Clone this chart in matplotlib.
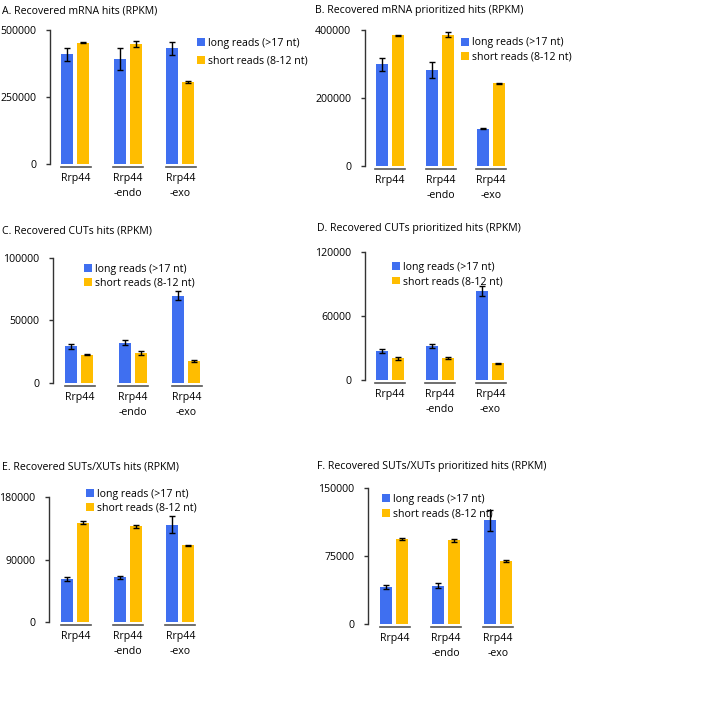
import matplotlib
matplotlib.use("Agg")
import matplotlib.pyplot as plt
from matplotlib.patches import Patch
from matplotlib.transforms import blended_transform_factory

plt.rcParams['font.family'] = ['Open Sans', 'DejaVu Sans']

categories = ["Rrp44", "Rrp44\n-endo", "Rrp44\n-exo"]
series_names = ["long reads (>17 nt)", "short reads (8-12 nt)"]

titles = [
    "A. Recovered mRNA hits (RPKM)",
    "B. Recovered mRNA prioritized hits (RPKM)",
    "C. Recovered CUTs hits (RPKM)",
    "D. Recovered CUTs prioritized hits (RPKM)",
    "E. Recovered SUTs/XUTs hits (RPKM)",
    "F. Recovered SUTs/XUTs prioritized hits (RPKM)",
]

# values per panel: long reads, short reads, and their error bars
long_vals = [
    [409000, 392000, 432000],
    [299000, 282000, 109000],
    [29300, 32200, 69600],
    [27100, 32100, 83200],
    [62200, 64200, 140300],
    [40600, 42300, 114200],
]
long_err = [
    [25000, 40000, 25000],
    [19000, 24000, 1500],
    [2200, 2200, 3600],
    [1600, 1800, 4500],
    [3000, 2500, 12000],
    [2200, 2500, 11500],
]
short_vals = [
    [452000, 448000, 307000],
    [384000, 386000, 244000],
    [22600, 23700, 17600],
    [20300, 20600, 15900],
    [143200, 137900, 110600],
    [94000, 92100, 69300],
]
short_err = [
    [1500, 12000, 3000],
    [1500, 7000, 1500],
    [500, 1500, 500],
    [1200, 1200, 500],
    [2000, 2500, 800],
    [1000, 1200, 800],
]
y_max = [500000, 400000, 100000, 120000, 180000, 150000]
y_ticks = [
    [0, 250000, 500000],
    [0, 200000, 400000],
    [0, 50000, 100000],
    [0, 60000, 120000],
    [0, 90000, 180000],
    [0, 75000, 150000],
]

# layout in pixels
W, H = 713, 726
axis_x = [50, 365, 53, 365, 49, 368]
axis_top = [30, 30, 258, 252, 497, 488]
axis_bot = [164, 166, 383, 380, 622, 624]
group_c0 = [75.3, 389.5, 79, 389.5, 75.5, 394]
group_c2 = [180, 490.5, 186, 490, 180, 497.5]
title_pos = [(2, 11), (315, 11), (2, 231), (317, 228), (2, 467), (317, 467)]
legend_pos = [(197, 38), (461, 37.5), (84, 264), (392, 262), (86, 489), (382, 494)]
legend_spacing = [0.64, 0.31, 0.27, 0.29, 0.24, 0.36]

BLUE = "#3F6FF0"
YELLOW = "#FFBD00"
FS = 7.6

fig = plt.figure(figsize=(W / 100, H / 100), dpi=100)

for i in range(6):
    ax_w = 170
    left = axis_x[i] / W
    bottom = 1 - axis_bot[i] / H
    height = (axis_bot[i] - axis_top[i]) / H
    ax = fig.add_axes([left, bottom, ax_w / W, height])
    s = (group_c2[i] - group_c0[i]) / 2.0
    xl = -(group_c0[i] - axis_x[i]) / s
    ax.set_xlim(xl, xl + ax_w / s)
    ax.set_ylim(0, y_max[i])
    bw = 12 / s
    off = 8 / s
    xs = [0, 1, 2]
    ax.bar([x - off for x in xs], long_vals[i], width=bw, color=BLUE,
           yerr=long_err[i], error_kw=dict(ecolor="black", elinewidth=1.0, capsize=2.5, capthick=1.0),
           label=series_names[0])
    ax.bar([x + off for x in xs], short_vals[i], width=bw, color=YELLOW,
           yerr=short_err[i], error_kw=dict(ecolor="black", elinewidth=1.0, capsize=2.5, capthick=1.0),
           label=series_names[1])
    for sp in ["top", "right", "bottom"]:
        ax.spines[sp].set_visible(False)
    ax.spines["left"].set_color("#333333")
    ax.spines["left"].set_linewidth(1.0)
    ax.set_yticks(y_ticks[i])
    ax.set_yticklabels([str(t) for t in y_ticks[i]], fontsize=FS)
    ax.tick_params(axis="y", length=3, width=1.0, color="#333333", pad=7)
    ax.set_xticks([])
    trans = blended_transform_factory(ax.transData, ax.transAxes)
    hpx = axis_bot[i] - axis_top[i]
    for x, lab in zip(xs, categories):
        ax.plot([x - off - bw / 2 - 0.5 / s, x + off + bw / 2 + 1.5 / s], [-2.8 / hpx, -2.8 / hpx],
                transform=trans, color="#555555", lw=1.2, clip_on=False)
        ax.text(x + 0.5 / s, -9 / hpx, lab, transform=trans, ha="center", va="top",
                fontsize=FS, linespacing=1.55)
    tx, ty = title_pos[i]
    fig.text(tx / W, 1 - ty / H, titles[i], ha="left", va="center", fontsize=FS)
    lx, ly = legend_pos[i]
    handles = [Patch(facecolor=BLUE), Patch(facecolor=YELLOW)]
    ax.legend(handles, series_names, loc="upper left",
              bbox_to_anchor=(lx / W, 1 - ly / H), bbox_transform=fig.transFigure,
              frameon=False, fontsize=FS, handlelength=0.75, handleheight=0.75,
              handletextpad=0.3, labelspacing=legend_spacing[i], borderpad=0, borderaxespad=0)

fig.savefig("out.png", dpi=100)
